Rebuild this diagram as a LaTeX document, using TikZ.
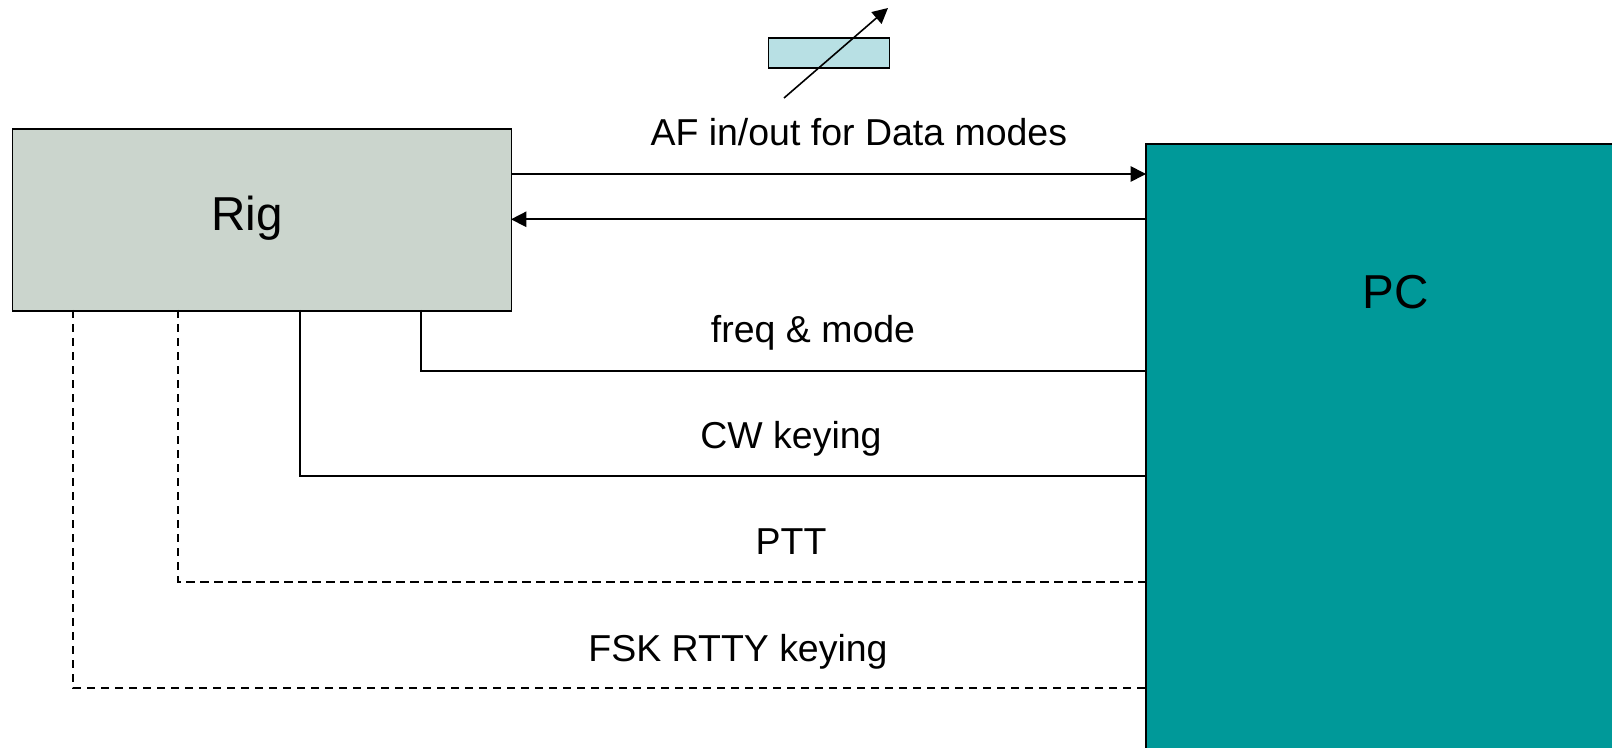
\documentclass[tikz,border=0pt]{standalone}
\usepackage{fontspec}
\setmainfont{Liberation Sans}
\usetikzlibrary{arrows.meta}
\definecolor{rigc}{RGB}{203,213,205}
\definecolor{pcc}{RGB}{0,153,153}
\definecolor{resc}{RGB}{184,224,228}
\tikzset{
  x=0.75pt,y=-0.75pt,
  box/.style={draw=black,line width=1.2pt,inner sep=0pt,anchor=north west},
  wire/.style={draw=black,line width=1.2pt},
  dashwire/.style={wire,dash pattern=on 6.2pt off 4.3pt},
  thindash/.style={dashwire,line width=1.1pt},
  thickdash/.style={dashwire,line width=1.5pt},
  tip/.style={-{Triangle[length=11.5pt,width=11.5pt]}},
  lab/.style={font=\fontsize{28.1}{32}\selectfont,inner sep=0pt,text=black},
  biglab/.style={font=\fontsize{35.7}{40}\selectfont,inner sep=0pt,text=black}
}
\begin{document}
\begin{tikzpicture}
\useasboundingbox (0,0) rectangle (1612,748);
\node[box,fill=rigc,minimum width=374.25pt,minimum height=136.5pt] (rig) at (11.6,128) {};
\path[box,fill=pcc,draw=black] (1146,144) rectangle (1614,750);
\coordinate (pcnw) at (1146,144);
\node[box,fill=resc,minimum width=90.75pt,minimum height=22.5pt] (res) at (767.5,37.5) {};
\node[biglab] (rigt) at (246.8,218) {Rig};
\node[biglab] (pct) at (1396,292.5) {PC};
\node[lab] (af) at (858.8,132.5) {AF in/out for Data modes};
\node[lab] (freq) at (813,333) {freq \& mode};
\node[lab] (cw) at (791,439) {CW keying};
\node[lab] (ptt) at (791,542) {PTT};
\node[lab] (fsk) at (738,651.5) {FSK RTTY keying};
\coordinate (resa) at (784,98);
\coordinate (resb) at (888,8);
\draw[wire,tip] (resa) -- (resb);
\coordinate (a1) at (511,174); \coordinate (a2) at (1146,174);
\coordinate (b1) at (1146,219.3); \coordinate (b2) at (511,219.3);
\draw[wire,tip] (a1) -- (a2);
\draw[wire,tip] (b1) -- (b2);
\coordinate (f1) at (421,310); \coordinate (f2) at (421,371); \coordinate (f3) at (1146,371);
\coordinate (c1) at (300,310); \coordinate (c2) at (300,476); \coordinate (c3) at (1146,476);
\coordinate (p1) at (178.4,310); \coordinate (p2) at (178.4,582); \coordinate (p3) at (1146,582);
\coordinate (k1) at (73,310); \coordinate (k2) at (73,688); \coordinate (k3) at (1146,688);
\draw[wire] (f1) -- (f2) -- (f3);
\draw[wire] (c1) -- (c2) -- (c3);
\draw[thickdash] (p1) -- (p2) -- (p3);
\draw[thindash] (k1) -- (k2) -- (k3);
\end{tikzpicture}
\end{document}
